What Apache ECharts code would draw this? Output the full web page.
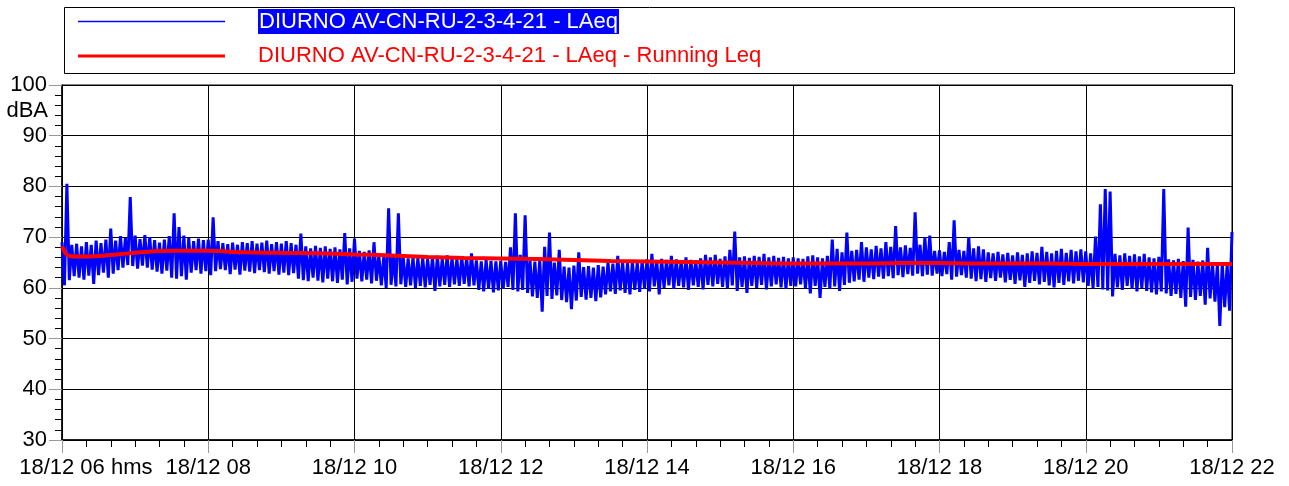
<!DOCTYPE html>
<html>
<head>
<meta charset="utf-8">
<title>DIURNO AV-CN-RU-2-3-4-21</title>
<script src="https://cdn.jsdelivr.net/npm/echarts@6/dist/echarts.min.js"></script>
<style>
  html, body { margin: 0; padding: 0; background: #fff; }
  #main { width: 1289px; height: 486px; }
</style>
</head>
<body>
<div id="main"></div>
<script type="text/javascript">
var FONT = 'Liberation Sans, Arial, sans-serif';
var NAME_LAEQ = 'DIURNO AV-CN-RU-2-3-4-21 - LAeq';
var NAME_RUN = 'DIURNO AV-CN-RU-2-3-4-21 - LAeq - Running Leq';

var STEP = 4;
var hi0608 = [69, 80.5, 68.5, 68.7, 68.2, 69, 68.5, 69.3, 68.8, 69.5, 71.7, 69.3, 70.2, 69.8, 77.9, 70.3, 69.6, 70.4, 70, 69.4, 68.9, 69.5, 70.2, 74.7, 72, 70.3, 69.8, 69.2, 69.7, 69.4];
var lo0608 = [60.5, 61.5, 62.3, 62, 61.6, 62.4, 60.8, 62.5, 63, 62, 62.8, 63.5, 64, 64.5, 64.3, 63.8, 64.4, 64, 63.6, 63.2, 62.8, 63.4, 62, 61.8, 62.3, 61.6, 63, 63.5, 62.8, 63.3];
var hi0810 = [69.5, 73.9, 69.2, 68.8, 68.6, 68.9, 68.5, 69, 68.8, 69.2, 68.7, 68.9, 69.3, 68.6, 69, 68.7, 69.2, 68.8, 68.5, 70.7, 68.2, 67.8, 68.3, 67.9, 68.2, 67.7, 68, 67.6, 70.8, 67.8];
var lo0810 = [62.5, 63.3, 63.7, 63.5, 62.7, 63.6, 62.6, 63.4, 63.2, 62.9, 63.5, 63.1, 62.8, 63.3, 62.6, 63, 62.5, 62.9, 61.8, 61.5, 61.3, 62, 61.4, 61.1, 61.8, 61.3, 61, 61.6, 60.7, 61.2];
var hi1012 = [69.7, 67.3, 67.1, 67.4, 69, 66.4, 66.2, 75.7, 66.3, 74.7, 66, 65.8, 66.1, 65.9, 66, 65.7, 66.1, 66.3, 65.8, 66.4, 66, 65.7, 66.2, 66, 66.8, 65.4, 65.2, 65.5, 65.3, 65.2];
var lo1012 = [61.8, 61.3, 61.6, 60.9, 61.4, 60.5, 60, 60.6, 60.3, 60.7, 60.2, 60.5, 60, 60.4, 60.1, 60.6, 59.4, 60.3, 60.6, 60.2, 60.7, 60.4, 60.8, 60.3, 60.5, 59.6, 59.3, 59.8, 59.1, 59.5];
var hi1214 = [65.3, 65.1, 68, 74.7, 66.5, 74.3, 65.4, 65.2, 65.5, 68.1, 70.9, 65, 67.5, 64.2, 64, 64.4, 67, 64.1, 64.3, 64, 64.5, 64.2, 65, 64.8, 66.3, 65.1, 64.9, 65.2, 65, 65.3];
var lo1214 = [59.8, 60.2, 59.6, 59.3, 59.6, 59, 58.3, 58, 55.3, 58.4, 57.8, 58.5, 57.6, 57.2, 55.8, 57.5, 58.2, 57.7, 58, 57.4, 58.1, 58.7, 59.3, 58.8, 59.5, 59, 58.7, 59.6, 59.2, 59.8];
var hi1416 = [65.6, 66.7, 65.4, 65.7, 65.5, 66.3, 65.6, 65.3, 66, 65.5, 65.4, 65.8, 66.5, 66, 66.5, 65.7, 66.2, 67.5, 71.1, 66, 66.2, 65.9, 66.3, 66.1, 66.7, 66, 66.3, 65.9, 66.1, 65.8];
var lo1416 = [59.3, 60.3, 58.7, 60, 60.5, 59.8, 60.4, 60.1, 59.6, 60.5, 60.2, 59.7, 60.6, 60.3, 60.8, 60.2, 59.9, 60.5, 59.4, 60.2, 59, 60.4, 60, 60.6, 59.7, 60.3, 60.7, 60.1, 59.8, 60.4];
var hi1618 = [66, 65.8, 65.7, 66.2, 66.4, 66, 65.8, 66.3, 69.5, 67.7, 67, 70.9, 67.3, 67.5, 69, 68, 67.6, 68.3, 67.8, 69, 68.1, 72.2, 68, 68.4, 67.9, 74.9, 68.5, 70, 70.3, 67.3];
var lo1618 = [60.3, 60.7, 59.9, 58.9, 60.4, 58, 60.2, 59.8, 60.3, 59.4, 60.6, 61, 61.3, 61.6, 61.2, 62, 61.7, 62.2, 61.8, 62.3, 61.9, 62.5, 62.1, 62.7, 62.4, 62.8, 62.3, 62.6, 62.4, 62.8];
var hi1820 = [67.4, 67.1, 69, 73.3, 67.5, 67.3, 70, 67.8, 68.2, 67.6, 67, 66.8, 67.1, 66.6, 66.9, 66.4, 67, 66.5, 66.8, 67.2, 66.9, 68.1, 67.1, 66.8, 67.3, 67.7, 66.9, 67.5, 67.2, 67.6];
var lo1820 = [62.3, 62.7, 61.6, 62.2, 62.5, 62, 61.8, 61.3, 61.7, 61.2, 61.9, 61.4, 62, 61.1, 61.6, 60.8, 61.5, 60.2, 61, 61.4, 60.7, 61.2, 60.5, 60.1, 61, 60.6, 61.3, 60.9, 61.4, 61.1];
var hi2022 = [67.2, 66.8, 70.1, 76.5, 79.5, 79, 66.7, 66.4, 66.8, 66.3, 66.6, 66.2, 66.7, 66, 65.8, 66.1, 79.5, 65.6, 65.4, 65.7, 65.3, 71.9, 65.5, 65.2, 65.4, 67.9, 64.9, 64.7, 65, 64.6, 71];
var lo2022 = [60.4, 59.9, 60.2, 59.7, 59.5, 58.3, 60.1, 59.6, 60.4, 59.8, 59.3, 60, 59.4, 59.1, 58.7, 59.3, 58.9, 58.4, 58.8, 58, 56.3, 58.2, 57.6, 58.4, 56.7, 57.9, 57.3, 52.5, 56.2, 55.5];

// Running Leq (minutes from 06:00, dBA)
var runMin = [0, 3, 6, 15, 30, 45, 60, 75, 90, 120, 150, 180, 210, 240, 270, 300, 330, 360, 390, 420, 450, 480, 510, 540, 570, 600, 630, 660, 690, 720, 750, 780, 810, 840, 870, 900, 930, 960];
var runLeq = [68.2, 66.8, 66.3, 66.2, 66.3, 66.6, 66.9, 67.2, 67.3, 67.3, 67.0, 66.9, 66.8, 66.6, 66.4, 66.1, 65.9, 65.8, 65.7, 65.5, 65.3, 65.2, 65.1, 65.0, 64.9, 64.8, 64.8, 64.8, 64.9, 64.9, 64.8, 64.8, 64.8, 64.7, 64.7, 64.7, 64.7, 64.7];

var hourTicks = [6, 8, 10, 12, 14, 16, 18, 20, 22];

var hi = [].concat(hi0608, hi0810, hi1012, hi1214, hi1416, hi1618, hi1820, hi2022);
var lo = [].concat(lo0608, lo0810, lo1012, lo1214, lo1416, lo1618, lo1820, lo2022);
var laeq = [];
for (var i = 0; i < lo.length; i++) {
    laeq.push([i * STEP, hi[i]]);
    laeq.push([i * STEP + STEP / 2, lo[i]]);
}
laeq.push([lo.length * STEP, hi[lo.length]]);

var running = runMin.map(function (m, k) { return [m, runLeq[k]]; });

function hourLabel(v) {
    var h = hourTicks[0] + v / 60;
    var s = '18/12 ' + (h < 10 ? '0' + h : h);
    if (v === 0) return '{h|hms }' + s + ' hms';
    return s;
}

var myChart = echarts.init(document.getElementById('main'));

option = {
    animation: false,
    textStyle: { fontFamily: FONT },
    grid: {
        left: 62, right: 57, top: 85, bottom: 46,
        containLabel: false, outerBoundsMode: 'none',
        show: true, borderColor: '#000', borderWidth: 1
    },
    legend: {
        left: 78, top: 9, orient: 'vertical', padding: 0,
        itemWidth: 147, itemHeight: 24, itemGap: 11,
        selectedMode: false,
        data: [
            { name: NAME_LAEQ, icon: 'path://M0,0H147V1.6H0Z', itemStyle: { color: '#0000ff', borderWidth: 0 } },
            { name: NAME_RUN, icon: 'path://M0,0H147V3H0Z', itemStyle: { color: '#ff0000', borderWidth: 0 } }
        ],
        formatter: function (name) {
            return name === NAME_LAEQ ? '{g|}{b|' + name + '}' : '{g|}{r|' + name + '}';
        },
        textStyle: {
            fontFamily: FONT, fontSize: 22,
            rich: {
                g: { width: 28 },
                b: { color: '#fff', backgroundColor: '#0000ff', fontSize: 22, fontFamily: FONT, padding: [2, 1, 1, 1] },
                r: { color: '#ff0000', fontSize: 22, fontFamily: FONT }
            }
        }
    },
    graphic: [
        {
            type: 'rect', left: 62, top: 5, silent: true,
            shape: { width: 1170, height: 66 },
            style: { fill: 'none', stroke: '#000', lineWidth: 1 }
        },
        {
            type: 'text', x: 48, y: 111,
            style: { text: 'dBA', fill: '#000', font: '22px ' + FONT, textAlign: 'right', textVerticalAlign: 'middle' }
        }
    ],
    xAxis: {
        type: 'value', min: 0, max: 960, interval: 120,
        axisLine: { lineStyle: { color: '#000', width: 1.5 } },
        axisTick: { length: 13, lineStyle: { color: '#999' } },
        minorTick: { show: true, splitNumber: 6, length: 7, lineStyle: { color: '#000' } },
        splitLine: { show: true, lineStyle: { color: '#000', width: 1 } },
        axisLabel: {
            color: '#000', fontSize: 22, fontFamily: FONT, margin: 17,
            formatter: hourLabel,
            rich: { h: { color: 'rgba(0,0,0,0)', fontSize: 22, fontFamily: FONT } }
        }
    },
    yAxis: {
        type: 'value', min: 30, max: 100, interval: 10,
        axisLine: { show: true, lineStyle: { color: '#000', width: 1.5 } },
        axisTick: { show: true, length: 13, lineStyle: { color: '#999' } },
        minorTick: { show: true, splitNumber: 5, length: 7, lineStyle: { color: '#000' } },
        splitLine: { show: true, lineStyle: { color: '#000', width: 1 } },
        axisLabel: { color: '#000', fontSize: 22, fontFamily: FONT, margin: 15 }
    },
    series: [
        {
            name: NAME_LAEQ, type: 'line', data: laeq,
            showSymbol: false, symbol: 'none', sampling: null,
            lineStyle: { color: '#0000ff', width: 3, join: 'bevel' },
            itemStyle: { color: '#0000ff' },
            z: 2
        },
        {
            name: NAME_RUN, type: 'line', data: running,
            showSymbol: false, symbol: 'none', smooth: 0.3,
            lineStyle: { color: '#ff0000', width: 4 },
            itemStyle: { color: '#ff0000' },
            z: 3
        }
    ]
};
myChart.setOption(option);
</script>
</body>
</html>
